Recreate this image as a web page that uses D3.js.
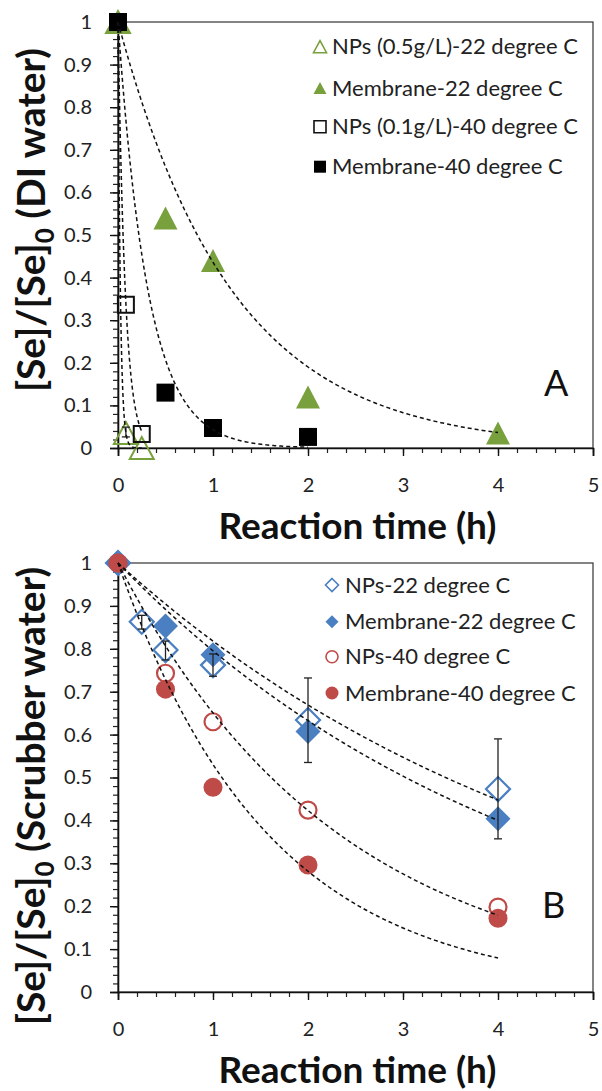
<!DOCTYPE html>
<html lang="en">
<head>
<meta charset="utf-8">
<title>Se removal kinetics</title>
<style>
  body { margin: 0; background: #fff; }
  svg { display: block; font-family: Lato, "Open Sans", sans-serif; }
</style>
</head>
<body>
<script src="https://cdnjs.cloudflare.com/ajax/libs/d3/7.8.5/d3.min.js"></script>
<script>
// ---- data ----
// Panel A (DI water)
const aNp22T = [0, 0.083, 0.25];
const aNp22V = [1, 0.035, 0.0];
const aMem22T = [0, 0.5, 1, 2, 4];
const aMem22V = [1, 0.54, 0.44, 0.12, 0.035];
const aNp40T = [0, 0.083, 0.25];
const aNp40V = [1, 0.336, 0.033];
const aMem40T = [0, 0.5, 1, 2];
const aMem40V = [1, 0.13, 0.047, 0.026];
const aErr = [[0.083, 0.026, 0.049]];      // [t, low, high]
// exponential trendline rate constants (1/h) and their end time
const aFitK = [40, 0.83, 13, 3.15];
const aFitEnd = [0.25, 4, 0.25, 2];

// Panel B (scrubber water)
const bNp22T = [0, 0.25, 0.5, 1, 2, 4];
const bNp22V = [1, 0.863, 0.797, 0.762, 0.634, 0.473];
const bMem22T = [0, 0.5, 1, 2, 4];
const bMem22V = [1, 0.853, 0.786, 0.607, 0.404];
const bNp40T = [0, 0.5, 1, 2, 4];
const bNp40V = [1, 0.743, 0.63, 0.424, 0.198];
const bMem40T = [0, 0.5, 1, 2, 4];
const bMem40V = [1, 0.706, 0.477, 0.296, 0.172];
const bErr = [[0.25, 0.846, 0.878], [0.5, 0.774, 0.818], [1, 0.736, 0.788], [2, 0.535, 0.732], [4, 0.357, 0.59]];
const bFitK = [0.201, 0.229, 0.43, 0.634];
const bFitEnd = [4, 4, 4, 4];

const xTicks = [0, 1, 2, 3, 4, 5];
const yTicks = [0, 0.1, 0.2, 0.3, 0.4, 0.5, 0.6, 0.7, 0.8, 0.9, 1];

const legendA = ["NPs (0.5g/L)-22 degree C", "Membrane-22 degree C", "NPs (0.1g/L)-40 degree C", "Membrane-40 degree C"];
const legendB = ["NPs-22 degree C", "Membrane-22 degree C", "NPs-40 degree C", "Membrane-40 degree C"];

const green = "#78a03c", blue = "#4a7fc1", red = "#be4b48";

const svg = d3.select("body").append("svg")
  .attr("width", 602).attr("height", 1091);

const left = 118, right = 593;

function triPath(w, h) {
  return `M0,${-h/2}L${w/2},${h/2}L${-w/2},${h/2}Z`;
}
function sqPath(s) {
  return `M${-s/2},${-s/2}h${s}v${s}h${-s}Z`;
}
function diaPath(s) {
  return `M0,${-s/2}L${s/2},0L0,${s/2}L${-s/2},0Z`;
}
function circPath(r) {
  return d3.arc()({innerRadius: 0, outerRadius: r, startAngle: 0, endAngle: 2 * Math.PI});
}

function drawPanel(p) {
  const x = d3.scaleLinear().domain([0, 5]).range([left, right]);
  const y = d3.scaleLinear().domain([0, 1]).range([p.bottom, p.top]);
  const g = svg.append("g");

  // frame
  g.append("rect")
    .attr("x", left).attr("y", p.top)
    .attr("width", right - left).attr("height", p.bottom - p.top)
    .attr("fill", "none").attr("stroke", "#333").attr("stroke-width", 1.2);

  // minor ticks
  const yMinor = d3.range(0, 51).map(i => i / 50);
  const xMinor = d3.range(0, 26).map(i => i / 5);
  g.append("g").attr("transform", `translate(${left},0)`)
    .call(d3.axisLeft(y).tickValues(yMinor).tickSize(5).tickFormat(""))
    .call(a => a.select(".domain").remove())
    .selectAll("line").attr("stroke", "#222").attr("stroke-width", 1.2);
  g.append("g").attr("transform", `translate(0,${p.bottom})`)
    .call(d3.axisBottom(x).tickValues(xMinor).tickSize(5).tickFormat(""))
    .call(a => a.select(".domain").remove())
    .selectAll("line").attr("stroke", "#222").attr("stroke-width", 1.2);

  // major axes
  const yAx = g.append("g").attr("transform", `translate(${left},0)`)
    .call(d3.axisLeft(y).tickValues(yTicks).tickSize(8).tickPadding(18)
      .tickFormat(d => d === 0 ? "0" : d === 1 ? "1" : d3.format(".1f")(d)));
  const xAx = g.append("g").attr("transform", `translate(0,${p.bottom})`)
    .call(d3.axisBottom(x).tickValues(xTicks).tickSize(8).tickPadding(22).tickFormat(d3.format("d")));
  [yAx, xAx].forEach(a => {
    a.select(".domain").attr("stroke", "#111").attr("stroke-width", 1.6);
    a.selectAll("line").attr("stroke", "#111").attr("stroke-width", 1.4);
    a.selectAll("text").attr("font-size", 20).attr("fill", "#222").attr("font-family", "Lato, sans-serif");
  });

  // series markers
  p.series.forEach(s => {
    g.append("g").selectAll("path")
      .data(s.t.map((t, i) => [t, s.v[i]]))
      .join("path")
      .attr("transform", d => `translate(${x(d[0])},${y(d[1])})`)
      .attr("d", s.shape)
      .attr("fill", s.fill)
      .attr("stroke", s.stroke)
      .attr("stroke-width", s.sw);
  });

  // error bars
  const eb = g.append("g").attr("stroke", "#222").attr("stroke-width", 1.3);
  p.err.forEach(e => {
    eb.append("line").attr("x1", x(e[0])).attr("x2", x(e[0])).attr("y1", y(e[1])).attr("y2", y(e[2]));
    [e[1], e[2]].forEach(v => eb.append("line")
      .attr("x1", x(e[0]) - 4).attr("x2", x(e[0]) + 4).attr("y1", y(v)).attr("y2", y(v)));
  });

  // exponential trendlines
  const line = d3.line().x(d => x(d[0])).y(d => y(d[1]));
  p.fitK.forEach((k, i) => {
    const end = p.fitEnd[i];
    const pts = d3.range(0, 201).map(j => {
      const t = end * j / 200;
      return [t, Math.exp(-k * t)];
    });
    g.append("path").attr("d", line(pts))
      .attr("fill", "none").attr("stroke", "#111")
      .attr("stroke-width", 1.5).attr("stroke-dasharray", "4,3");
  });

  // legend
  const lg = g.append("g");
  p.legend.forEach((name, i) => {
    const s = p.series[i];
    const ly = p.legY[i];
    lg.append("path").attr("transform", `translate(${p.legX},${ly})`)
      .attr("d", s.legShape).attr("fill", s.fill).attr("stroke", s.stroke).attr("stroke-width", s.legSw);
    lg.append("text").attr("x", p.legX + p.legGap).attr("y", ly).attr("dy", "0.35em")
      .attr("font-size", p.legSize).attr("fill", "#222").text(name);
  });

  // panel letter
  g.append("text").attr("x", p.letterX).attr("y", p.letterY)
    .attr("font-size", 36).attr("fill", "#111").text(p.letter);

  // axis titles
  g.append("text").attr("x", (left + right) / 2 + 2).attr("y", p.bottom + 91)
    .attr("text-anchor", "middle").attr("font-size", 37).attr("font-weight", "bold")
    .attr("fill", "#111").text("Reaction time (h)");

  const yt = g.append("text")
    .attr("transform", `translate(45,${p.ytCenter}) rotate(-90)`)
    .attr("text-anchor", "middle").attr("font-size", 39).attr("font-weight", "bold").attr("fill", "#111");
  yt.append("tspan").text("[Se]/[Se]");
  yt.append("tspan").attr("font-size", 26).attr("dy", 9).text("0");
  yt.append("tspan").attr("dy", -9).text(p.ytSuffix);
}

drawPanel({
  top: 22, bottom: 448,
  series: [
    {t: aNp22T, v: aNp22V, shape: triPath(24, 22), fill: "none", stroke: green, sw: 2,
     legShape: triPath(13, 12), legSw: 1.6},
    {t: aMem22T, v: aMem22V, shape: triPath(24, 23), fill: green, stroke: "none", sw: 0,
     legShape: triPath(13, 12), legSw: 0},
    {t: aNp40T, v: aNp40V, shape: sqPath(16), fill: "none", stroke: "#111", sw: 2,
     legShape: sqPath(12), legSw: 1.6},
    {t: aMem40T, v: aMem40V, shape: sqPath(18), fill: "#000", stroke: "none", sw: 0,
     legShape: sqPath(12), legSw: 0}
  ],
  err: aErr, fitK: aFitK, fitEnd: aFitEnd,
  legend: legendA, legX: 320, legGap: 12, legY: [46.7, 88, 126.7, 166.7], legSize: 22,
  letter: "A", letterX: 544, letterY: 396,
  ytCenter: 220, ytSuffix: " (DI water)"
});

drawPanel({
  top: 563, bottom: 992,
  series: [
    {t: bNp22T, v: bNp22V, shape: diaPath(24), fill: "none", stroke: blue, sw: 2.2,
     legShape: diaPath(13), legSw: 1.6},
    {t: bMem22T, v: bMem22V, shape: diaPath(25), fill: blue, stroke: "none", sw: 0,
     legShape: diaPath(13), legSw: 0},
    {t: bNp40T, v: bNp40V, shape: circPath(8.5), fill: "none", stroke: red, sw: 2.2,
     legShape: circPath(6), legSw: 1.6},
    {t: bMem40T, v: bMem40V, shape: circPath(9.5), fill: red, stroke: "none", sw: 0,
     legShape: circPath(6.5), legSw: 0}
  ],
  err: bErr, fitK: bFitK, fitEnd: bFitEnd,
  legend: legendB, legX: 332, legGap: 13, legY: [585, 621.7, 656.7, 693], legSize: 22,
  letter: "B", letterX: 542, letterY: 918,
  ytCenter: 796, ytSuffix: " (Scrubber water)"
});
</script>
</body>
</html>
